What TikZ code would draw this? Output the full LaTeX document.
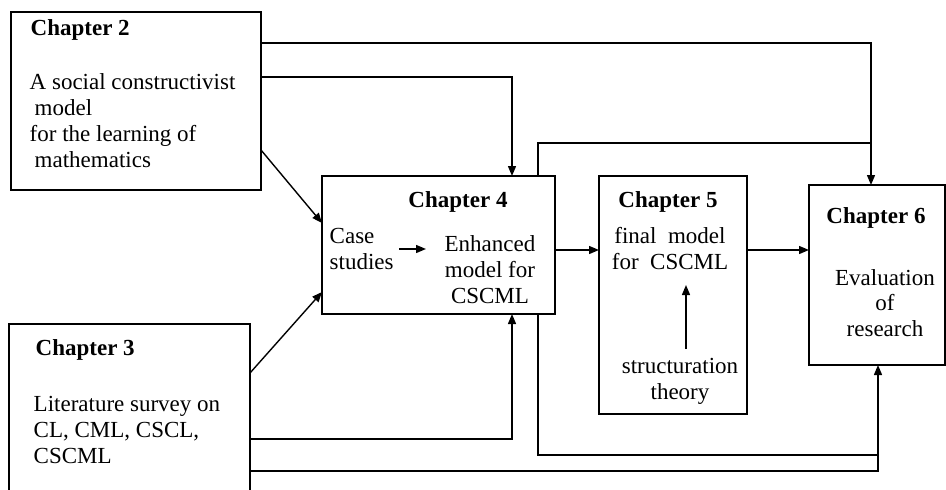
\documentclass[tikz,border=0pt]{standalone}
\usepackage{fontspec}
\setmainfont{Liberation Serif}
\usetikzlibrary{arrows.meta}
\begin{document}
\begin{tikzpicture}[x=1pt,y=-1pt,
  line width=1.4pt,
  box/.style={draw, inner sep=0pt, outer sep=0pt, anchor=north west},
  txt/.style={inner sep=0pt, font=\fontsize{23}{26}\selectfont},
  head/.style={inner sep=0pt, font=\fontsize{23}{26}\selectfont\bfseries},
  arr/.style={-{Triangle[length=10pt,width=8pt]}}
]
\clip (0,0) rectangle (946,490);
% boxes
\node[box, minimum width=250pt, minimum height=178pt] (ch2) at (11,12) {};
\node[box, minimum width=241pt, minimum height=200pt] (ch3) at (9,324) {};
\node[box, minimum width=233pt, minimum height=138pt] (ch4) at (322,176) {};
\node[box, minimum width=148pt, minimum height=238pt] (ch5) at (599,176) {};
\node[box, minimum width=136pt, minimum height=180pt] (ch6) at (809,185) {};
% texts
\node[head, anchor=west] (h2) at (30,30) {Chapter 2};
\node[txt, anchor=west, align=left] (t2) at (29,121) {A social constructivist\\\hspace{5pt}model\\for the learning of\\\hspace{5pt}mathematics};
\node[head, anchor=west] (h3) at (35,350) {Chapter 3};
\node[txt, anchor=west, align=left] (t3) at (33,430) {Literature survey on\\CL, CML, CSCL,\\CSCML};
\node[head] (h4) at (458,202) {Chapter 4};
\node[txt, anchor=west, align=left] (case) at (329,249) {Case\\studies};
\node[txt, align=center] (enh) at (490,270) {Enhanced\\model for\\CSCML};
\node[head] (h5) at (668,202) {Chapter 5};
\node[txt, align=center] (fin) at (670,249) {final~~model\\for~~CSCML};
\node[txt, align=center] (str) at (680,381) {structuration\\theory};
\node[head] (h6) at (876,218) {Chapter 6};
\node[txt, align=center, font=\fontsize{23}{25.5}\selectfont] (t6) at (885,303) {Evaluation\\of\\research};
% helper coordinates
\coordinate (xa) at (871,0);
\coordinate (xb) at (878,0);
\coordinate (xin) at (512,0);
\coordinate (xout) at (538,0);
\coordinate (y1) at (0,43);
\coordinate (y2) at (0,77);
\coordinate (y3) at (0,143);
\coordinate (y4) at (0,439);
\coordinate (y5) at (0,455);
\coordinate (y6) at (0,471);
\coordinate (ym) at (0,250);
\coordinate (d2a) at (0,150);
\coordinate (d2b) at (0,223);
\coordinate (d3a) at (0,373);
\coordinate (d3b) at (0,292);
\coordinate (xs) at (686,0);
\coordinate (ys1) at (0,349);
\coordinate (ys2) at (0,285);
\coordinate (ca) at (399,249);
\coordinate (cb) at (426,249);
% connectors
\draw[arr] (ch2.east |- y1) -| (ch6.north -| xa);
\draw[arr] (ch2.east |- y2) -| (ch4.north -| xin);
\draw (ch4.north -| xout) |- (xa |- y3);
\draw[arr] (ch2.east |- d2a) -- (ch4.west |- d2b);
\draw[arr] (ch3.east |- d3a) -- (ch4.west |- d3b);
\draw[arr] (ch3.east |- y4) -| (ch4.south -| xin);
\draw (ch4.south -| xout) |- (xb |- y5);
\draw[arr] (ch3.east |- y6) -| (ch6.south -| xb);
\draw[arr] (ch4.east |- ym) -- (ch5.west |- ym);
\draw[arr] (ch5.east |- ym) -- (ch6.west |- ym);
\draw[arr] (ca) -- (cb);
\draw[arr] (xs |- ys1) -- (xs |- ys2);
\end{tikzpicture}
\end{document}
